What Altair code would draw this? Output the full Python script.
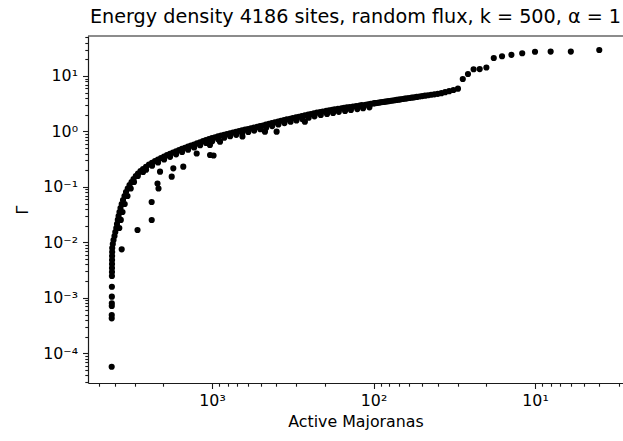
import altair as alt
import pandas as pd

TITLE = "Energy density 4186 sites, random flux, k = 500, α = 1"
X_TITLE = "Active Majoranas"
Y_TITLE = "Γ"

# steep left part of the band (number of active Majoranas, Gamma)
steep_x = [4180, 4178, 4176, 4174, 4172, 4170, 4168, 4166, 4164, 4162, 4160, 4158,
           4156, 4152, 4148, 4114, 4072, 4016, 3970, 3914, 3876, 3830, 3788, 3740,
           3686, 3624, 3556, 3482, 3408, 3326, 3242, 3150, 3062, 2964, 2872, 2772, 2674]
steep_y = [5.74e-5, 4.28e-4, 4.91e-4, 7.14e-4, 7.98e-4, 1.05e-3, 1.59e-3, 2.48e-3,
           2.92e-3, 3.46e-3, 4.08e-3, 4.82e-3, 5.69e-3, 6.71e-3, 7.93e-3, 9.35e-3,
           1.10e-2, 1.30e-2, 1.54e-2, 1.82e-2, 2.15e-2, 2.54e-2, 2.99e-2, 3.53e-2,
           4.17e-2, 4.92e-2, 5.82e-2, 6.87e-2, 8.11e-2, 9.37e-2, 0.1084, 0.1227,
           0.1390, 0.1575, 0.1747, 0.1938, 0.2106]

# flatter part of the band
band_x = [2562, 2456, 2352, 2254, 2160, 2070, 1982, 1900, 1820, 1744, 1670, 1600,
          1534, 1470, 1408, 1350, 1292, 1238, 1186, 1136, 1090, 1044, 1000, 958,
          918, 880, 842, 808, 774, 742, 710, 680, 652, 624, 598, 574, 550, 526, 504,
          484, 464, 444, 426, 408, 390, 374, 358, 344, 328, 316, 302, 290, 278, 266,
          254, 244, 234, 224, 214, 206, 196, 188, 180, 174, 166, 158, 152, 146, 140,
          134, 128, 122, 118, 112, 108, 104,
          100, 98, 96, 94, 92, 90, 88, 86, 84, 82, 80, 78, 76, 74, 72, 70, 68, 66,
          64, 62, 60, 58, 56, 54, 52, 50, 48, 46, 44, 42, 40, 38, 36, 34, 32, 30]
band_y = [0.2312, 0.2538, 0.2725, 0.2926, 0.3123, 0.3323, 0.3537, 0.3738, 0.3951,
          0.4176, 0.4389, 0.4614, 0.4850, 0.5083, 0.5318, 0.5564, 0.5822, 0.6100,
          0.6392, 0.6696, 0.7019, 0.7291, 0.7578, 0.7872, 0.8180, 0.8459, 0.8726,
          0.9002, 0.9288, 0.9581, 0.9864, 1.0155, 1.0454, 1.0762, 1.1079, 1.1405,
          1.1743, 1.2089, 1.2445, 1.2811, 1.3244, 1.3692, 1.4154, 1.4632, 1.5126,
          1.5586, 1.6032, 1.6484, 1.6955, 1.7433, 1.7932, 1.8438, 1.8966, 1.9501,
          2.0059, 2.0625, 2.1215, 2.1813, 2.2437, 2.2927, 2.3437, 2.3948, 2.4480,
          2.5015, 2.5571, 2.6107, 2.6600, 2.7101, 2.7612, 2.8133, 2.8663, 2.9203,
          2.9754, 3.0315, 3.0886, 3.1468,
          3.207, 3.235, 3.265, 3.293, 3.325, 3.358, 3.392, 3.426, 3.460, 3.496,
          3.535, 3.574, 3.615, 3.656, 3.702, 3.747, 3.795, 3.846, 3.896, 3.953,
          4.009, 4.069, 4.130, 4.198, 4.266, 4.339, 4.418, 4.501, 4.590, 4.667,
          4.770, 4.907, 5.106, 5.322, 5.586, 5.903]

# lower side of the band
lower_x = [3750, 3670, 3582, 3472, 3336, 3186, 3040, 2880, 2672,
           2560, 2350, 2158, 1980, 1818, 1668, 1532, 1406, 1290, 1184, 1088, 998,
           916, 840, 772, 708, 650, 596, 548, 502, 462, 424, 388, 356, 326, 300,
           276, 252, 232, 212, 194, 178, 164, 150, 138, 126, 116, 106]
lower_y = [0.0182, 0.0254, 0.0353, 0.0492, 0.0687, 0.0937, 0.1227, 0.1575, 0.1859,
           0.2042, 0.2406, 0.2758, 0.3123, 0.3489, 0.3875, 0.4283, 0.4696, 0.5141,
           0.5644, 0.6198, 0.6691, 0.7223, 0.7705, 0.8201, 0.8710, 0.9231, 0.9783,
           1.0369, 1.0989, 1.1694, 1.2498, 1.3356, 1.4156, 1.4971, 1.5834, 1.6747,
           1.7712, 1.8733, 1.9812, 2.0695, 2.1616, 2.2579, 2.3488, 2.4381, 2.5309,
           2.6273, 2.7272]

# last few states (the step at the right)
tail_x = [28, 26, 24, 22, 20, 18, 16, 14, 12, 10, 8, 6, 4]
tail_y = [8.83, 10.87, 13.21, 13.3, 14.23, 21.1, 22.7, 24.1, 25.7, 27.4, 27.5, 27.5, 29.4]

# scattered points below the band
out_x = [3624, 2892, 2362, 2364, 2175, 2144, 2098, 1776, 1736, 1506, 1244, 1028,
         978, 1030, 892, 648, 470, 398, 266]
out_y = [7.51e-3, 0.01674, 0.02535, 0.05354, 0.1153, 0.0937, 0.1883, 0.1530,
         0.2168, 0.2317, 0.4006, 0.3764, 0.3688, 0.5703, 0.6543, 0.8116, 0.9905,
         0.9905, 1.5001]

x_major = [1000, 100, 10]
x_major_labels = ["10³", "10²", "10¹"]
x_minor = [5000, 4000, 3000, 2000, 900, 800, 700, 600, 500, 400, 300, 200,
           90, 80, 70, 60, 50, 40, 30, 20, 9, 8, 7, 6, 5, 4, 3]
y_major = [10, 1, 0.1, 0.01, 0.001, 0.0001]
y_major_labels = ["10¹", "10⁰", "10⁻¹", "10⁻²", "10⁻³", "10⁻⁴"]
y_minor = [50, 40, 30, 20, 9, 8, 7, 6, 5, 4, 3, 2,
           0.9, 0.8, 0.7, 0.6, 0.5, 0.4, 0.3, 0.2,
           0.09, 0.08, 0.07, 0.06, 0.05, 0.04, 0.03, 0.02,
           0.009, 0.008, 0.007, 0.006, 0.005, 0.004, 0.003, 0.002,
           0.0009, 0.0008, 0.0007, 0.0006, 0.0005, 0.0004, 0.0003, 0.0002,
           9e-05, 8e-05, 7e-05, 6e-05, 5e-05, 4e-05, 3e-05]

X_DOMAIN = [2.852, 5859]
Y_DOMAIN = [2.921e-05, 52.6]

all_x = steep_x + band_x + lower_x + tail_x + out_x
all_y = steep_y + band_y + lower_y + tail_y + out_y
df = pd.DataFrame({"majoranas": all_x, "gamma": all_y})

FONT = "DejaVu Sans"
TEXT = "#000000"
SPINE = "#1a1a1a"


def label_expr(values, labels):
    parts = [f"datum.value == {v} ? '{l}'" for v, l in zip(values, labels)]
    return " : ".join(parts) + " : ''"


def major_test(values):
    return "indexof([" + ",".join(str(v) for v in values) + "], datum.value) >= 0"


def make_axis(title, majors, labels, minors, **kw):
    return alt.Axis(
        title=title,
        values=majors + minors,
        labelExpr=label_expr(majors, labels),
        tickSize={"condition": {"test": major_test(majors), "value": 5.5}, "value": 3.2},
        tickColor=SPINE,
        tickWidth=1.1,
        domainColor=SPINE,
        domainWidth=1.2,
        grid=False,
        labelOverlap=False,
        labelFlush=False,
        labelFont=FONT,
        labelFontSize=15.8,
        labelColor=TEXT,
        titleFont=FONT,
        titleFontSize=15.8,
        titleFontWeight="normal",
        titleColor=TEXT,
        labelPadding=5,
        **kw,
    )


points = alt.Chart(df).mark_circle(size=38, color="black", opacity=1).encode(
    x=alt.X(
        "majoranas:Q",
        scale=alt.Scale(type="log", domain=X_DOMAIN, reverse=True, nice=False, zero=False),
        axis=make_axis(X_TITLE, x_major, x_major_labels, x_minor, titlePadding=6),
    ),
    y=alt.Y(
        "gamma:Q",
        scale=alt.Scale(type="log", domain=Y_DOMAIN, nice=False, zero=False),
        axis=make_axis(Y_TITLE, y_major, y_major_labels, y_minor, titlePadding=12),
    ),
)

top_spine = alt.Chart(pd.DataFrame({"v": [0]})).mark_rule(
    color=SPINE, strokeWidth=1.2
).encode(x=alt.value(0), x2=alt.value(535), y=alt.value(0))

chart = (
    alt.layer(points, top_spine)
    .properties(
        width=535,
        height=347,
        padding={"left": 88, "top": 36, "right": 0, "bottom": 58},
        autosize=alt.AutoSizeParams(type="none"),
        title=alt.TitleParams(
            text=TITLE,
            font=FONT,
            fontSize=19.2,
            fontWeight="normal",
            color=TEXT,
            anchor="middle",
            frame="group",
            offset=2,
        ),
        background="white",
    )
    .configure_view(stroke="transparent")
)

chart.save("out.html", embed_options={"renderer": "svg", "actions": False})
